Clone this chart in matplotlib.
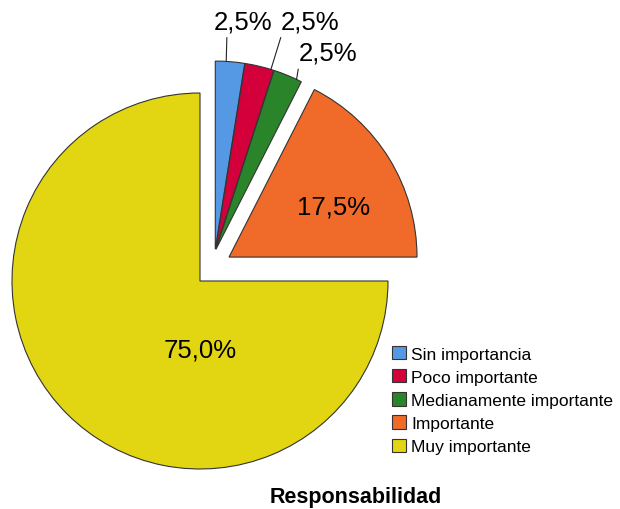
import numpy as np
import matplotlib.pyplot as plt

categories = ['Sin importancia', 'Poco importante', 'Medianamente importante',
              'Importante', 'Muy importante']
percents = [2.5, 2.5, 2.5, 17.5, 75.0]
labels = ['2,5%', '2,5%', '2,5%', '17,5%', '75,0%']
colors = ['#5599E5', '#D4003C', '#2A852A', '#F06A2A', '#E2D612']

plt.rcParams['font.family'] = ['Liberation Sans', 'DejaVu Sans']

fig = plt.figure(figsize=(6.2, 5.1), dpi=100)
ax = fig.add_axes([0, 0, 1, 1])

wedges, _ = ax.pie(percents, colors=colors, explode=[0.012, 0.012, 0.012, 0, 0],
                   startangle=90, counterclock=False, radius=1.0,
                   wedgeprops=dict(edgecolor='#333333', linewidth=0.8))

# pull slices out of the pie the way SPSS does (offset angle in deg, distance in radii)
pull = [(63, 0.177), (63, 0.177), (63, 0.177), (39.5, 0.2), (0, 0)]
for w, (a, d) in zip(wedges, pull):
    cx, cy = w.center
    w.set_center((cx + d * np.cos(np.deg2rad(a)), cy + d * np.sin(np.deg2rad(a))))

# 1 data unit = 188 px, pie centre at pixel (200, 282)
ax.set_xlim(-200 / 188, 420 / 188)
ax.set_ylim(-228 / 188, 282 / 188)
ax.set_aspect('auto')
ax.axis('off')

# small slices: labels outside with leader lines
small_pos = [(0.231, 1.381), (0.588, 1.381), (0.683, 1.213)]
small_rel = [(0.22, 0.05), (0.02, 0.05), (0.0, 0.05)]
arc_frac = [0.63, 0.1, 0.18]   # where along the outer arc the leader line ends
for i, ((tx, ty), rel, f) in enumerate(zip(small_pos, small_rel, arc_frac)):
    w = wedges[i]
    ang = np.deg2rad(w.theta1 + f * (w.theta2 - w.theta1))
    cx, cy = w.center
    px, py = cx + w.r * np.cos(ang), cy + w.r * np.sin(ang)
    ax.annotate(labels[i], xy=(px, py), xytext=(tx, ty), ha='center', va='center',
                fontsize=18.5,
                arrowprops=dict(arrowstyle='-', color='#222222', lw=0.8,
                                relpos=rel, shrinkA=1, shrinkB=0))

ax.text(0.713, 0.394, labels[3], ha='center', va='center', fontsize=18.5)
ax.text(0.0, -0.367, labels[4], ha='center', va='center', fontsize=18.5)

fig.legend(wedges, categories, loc='upper left', bbox_to_anchor=(0.632, 0.3196),
           frameon=False, fontsize=12.5, handlelength=0.8, handleheight=0.8,
           handletextpad=0.3, labelspacing=0.43, borderaxespad=0, borderpad=0)

fig.text(0.573, 0.025, 'Responsabilidad', ha='center', va='center',
         fontsize=15.5, fontweight='bold')

fig.savefig('out.png', dpi=100)
